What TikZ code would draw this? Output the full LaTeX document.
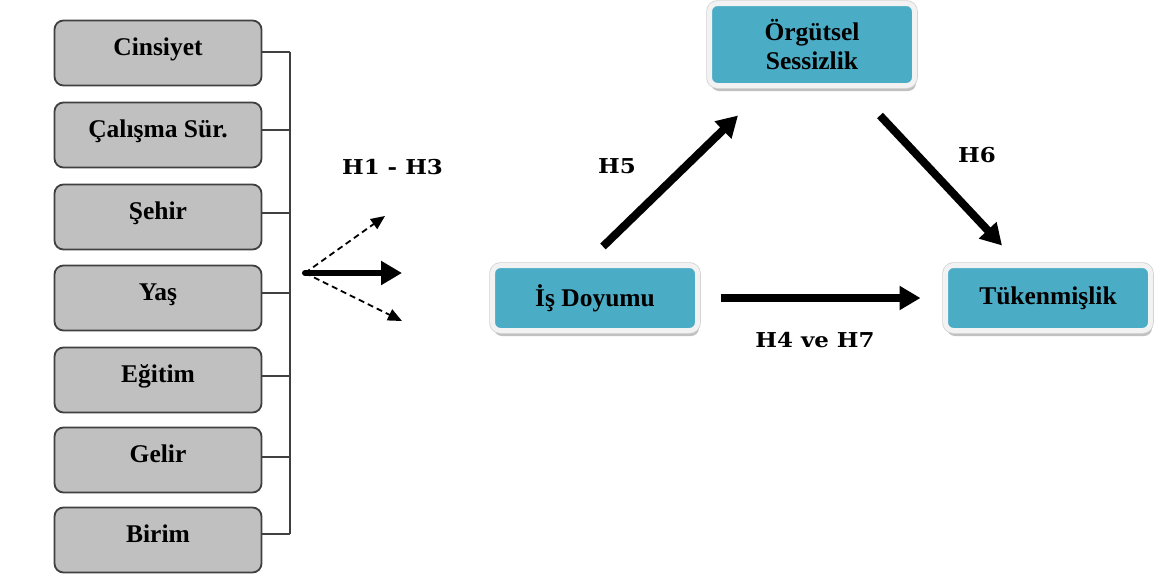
\documentclass[tikz,border=0pt]{standalone}
\usepackage{fontspec}
\setmainfont{Liberation Serif}
\newfontfamily\labelfont[FakeStretch=1.12]{DejaVu Serif}
\usetikzlibrary{arrows.meta,shadows}
\definecolor{boxgray}{HTML}{C0C0C0}
\definecolor{boxline}{HTML}{404040}
\definecolor{tealfill}{HTML}{4BACC6}
\definecolor{framecol}{HTML}{F2F2F2}
\definecolor{frameedge}{HTML}{D0D0D0}
\begin{document}
\begin{tikzpicture}[x=1pt,y=-1pt,
  graybox/.style={draw=boxline, line width=1.8pt, fill=boxgray, rounded corners=9pt,
    minimum width=207pt, minimum height=65pt, inner sep=0pt,
    font=\fontsize{25.5}{29}\selectfont\bfseries, text height=17pt, text depth=12pt},
  tealbox/.style={fill=tealfill, draw=framecol, line width=5pt, rounded corners=8pt,
    drop shadow={shadow xshift=1.5pt, shadow yshift=-5.5pt, opacity=0.35, fill=black!70},
    preaction={draw=frameedge, line width=6.5pt},
    minimum width=205pt, inner sep=0pt, align=center,
    font=\fontsize{25.5}{29}\selectfont\bfseries},
  hlabel/.style={font=\labelfont\bfseries\fontsize{20.5}{24}\selectfont, inner sep=0pt},
  wire/.style={draw=boxline, line width=1.6pt},
  bigarrow/.style={line width=8pt, -{Triangle[length=21pt,width=23pt]}},
  fanarrow/.style={line width=6pt, line cap=round, -{Triangle[length=21pt,width=23pt]}},
  dasharrow/.style={line width=1.8pt, dash pattern=on 6pt off 4pt, -{Triangle[length=14pt,width=12pt]}}
]
\useasboundingbox (0,0) rectangle (1160,579);

% left gray boxes
\node[graybox] (c1) at (158,53)  {Cinsiyet};
\node[graybox] (c2) at (158,135) {Çalışma Sür.};
\node[graybox] (c3) at (158,217) {Şehir};
\node[graybox] (c4) at (158,298) {Yaş};
\node[graybox] (c5) at (158,380) {Eğitim};
\node[graybox] (c6) at (158,460) {Gelir};
\node[graybox] (c7) at (158,540) {Birim};

% bus
\coordinate (busTop) at (290,52);
\coordinate (busBot) at (290,534);
\draw[wire] (busTop) -- (busBot);
\foreach \n/\s in {c1/1,c2/5,c3/4,c4/5,c5/4,c6/3,c7/6}{
  \draw[wire] ([yshift=\s pt]\n.east) -- ([yshift=\s pt]\n.east -| busTop);
}

% fan of arrows
\coordinate (fan) at (305,273);
\coordinate (fanUp) at (385,216);
\coordinate (fanMid) at (402,273);
\coordinate (fanDown) at (402,321);
\draw[dasharrow] (fan) -- (fanUp);
\draw[dasharrow] (fan) -- (fanDown);
\draw[fanarrow] (fan) -- (fanMid);
\node[hlabel] (h13) at (392.5,167.5) {H1 - H3};

% right teal boxes
\node[tealbox, minimum height=82pt] (org) at (812,44.5) {Örgütsel\\Sessizlik};
\node[tealbox, minimum height=65pt] (isd) at (595,298) {İş Doyumu};
\node[tealbox, minimum height=65pt] (tuk) at (1048,298) {Tükenmişlik};

% main arrows
\draw[bigarrow] ([xshift=8pt,yshift=16.5pt]isd.north) -- ([xshift=-74pt,yshift=-27.5pt]org.south);
\draw[bigarrow] ([xshift=68pt,yshift=-27.5pt]org.south) -- ([xshift=-46pt,yshift=17.5pt]tuk.north);
\draw[bigarrow] ([xshift=20.5pt]isd.east) -- ([xshift=-22.5pt]tuk.west);

\node[hlabel] (h5) at (617,166) {H5};
\node[hlabel] (h6) at (977,155) {H6};
\node[hlabel] (h47) at (815,340) {H4 ve H7};
\end{tikzpicture}
\end{document}
